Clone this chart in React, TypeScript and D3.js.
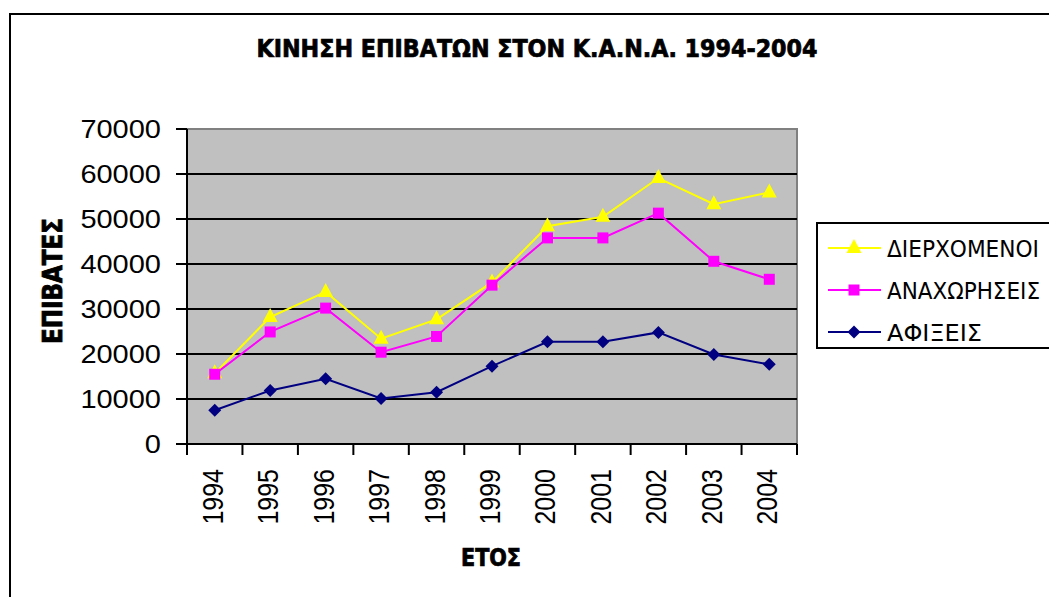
import * as d3 from 'd3';

const years = ['1994', '1995', '1996', '1997', '1998', '1999', '2000', '2001', '2002', '2003', '2004'];
const transit = [15700, 28200, 33800, 23400, 27700, 35900, 48400, 50500, 59100, 53300, 55900];
const departures = [15500, 24900, 30200, 20400, 23900, 35300, 45800, 45800, 51300, 40600, 36600];
const arrivals = [7500, 11900, 14500, 10100, 11500, 17300, 22700, 22700, 24800, 19900, 17700];
const yTicks = [0, 10000, 20000, 30000, 40000, 50000, 60000, 70000];

const title = 'ΚΙΝΗΣΗ ΕΠΙΒΑΤΩΝ ΣΤΟΝ Κ.Α.Ν.Α. 1994-2004';
const xTitle = 'ΕΤΟΣ';
const yTitle = 'ΕΠΙΒΑΤΕΣ';

const series = [
  { name: 'ΔΙΕΡΧΟΜΕΝΟΙ', values: transit, color: '#ffff00', marker: 'triangle' },
  { name: 'ΑΝΑΧΩΡΗΣΕΙΣ', values: departures, color: '#ff00ff', marker: 'square' },
  { name: 'ΑΦΙΞΕΙΣ', values: arrivals, color: '#000080', marker: 'diamond' },
];

// the reference is stretched sideways a little, so every text gets this
const SX = 1.16;
const W = 1049;
const H = 597;
const plot = { left: 187, right: 797, top: 129, bottom: 444 };
// legend text widths as seen in the picture
const legendWidths = [152, 153, 95];

function markerPath(kind: string) {
  if (kind === 'triangle') return 'M0,-9L7.5,5L-7.5,5Z';
  if (kind === 'square') return 'M-5.5,-5.5H5.5V5.5H-5.5Z';
  return 'M0,-6.5L6.5,0L0,6.5L-6.5,0Z';
}

function Marker({ kind, x, y, color }: { kind: string; x: number; y: number; color: string }) {
  return <path d={markerPath(kind)} transform={`translate(${x},${y})`} fill={color} />;
}

export default function App() {
  const x = d3.scaleBand().domain(years).range([plot.left, plot.right]);
  const y = d3.scaleLinear().domain([0, 70000]).range([plot.bottom, plot.top]);
  const cx = (yr: string) => (x(yr) as number) + x.bandwidth() / 2;

  const line = d3.line<number>()
    .x((_, i) => cx(years[i]))
    .y(d => y(d));

  const numFont = "'Liberation Sans', Arial, sans-serif";
  const tahoma = "'DejaVu Sans', Verdana, sans-serif";
  const tahomaBold = "'DejaVu Sans Condensed', 'DejaVu Sans', Verdana, sans-serif";
  // heavier bold like the reference's
  const heavy = { fontWeight: 'bold', stroke: '#000', strokeWidth: 0.7 } as const;

  return (
    <svg width={W} height={H} style={{ position: 'absolute', left: 0, top: 0, background: '#fff' }}>
      <rect x={10} y={14} width={W + 20} height={H + 20} fill="#fff" stroke="#000" strokeWidth={2} />

      <text
        transform={`translate(537,57) scale(${SX},1)`}
        textAnchor="middle"
        fontFamily={tahomaBold}
        {...heavy}
        fontSize={25}
        textLength={561 / SX}
        lengthAdjust="spacingAndGlyphs"
      >
        {title}
      </text>

      <rect x={plot.left} y={plot.top} width={plot.right - plot.left} height={plot.bottom - plot.top}
        fill="#c0c0c0" stroke="#808080" strokeWidth={2} />

      {yTicks.filter(t => t > 0 && t < 70000).map(t => (
        <line key={'g' + t} x1={plot.left} x2={plot.right} y1={y(t)} y2={y(t)} stroke="#000" strokeWidth={2} />
      ))}

      <line x1={plot.left} x2={plot.left} y1={plot.top} y2={plot.bottom + 1} stroke="#000" strokeWidth={2} />
      <line x1={plot.left} x2={plot.right} y1={plot.bottom} y2={plot.bottom} stroke="#000" strokeWidth={2} />

      {yTicks.map(t => (
        <g key={'y' + t}>
          <line x1={plot.left - 11} x2={plot.left} y1={y(t)} y2={y(t)} stroke="#000" strokeWidth={2} />
          <text
            transform={`translate(161,${y(t) + 9}) scale(${SX},1)`}
            textAnchor="end"
            fontFamily={numFont}
            fontSize={25}
          >
            {t}
          </text>
        </g>
      ))}

      {years.map(yr => (
        <line key={'xt' + yr} x1={x(yr) as number} x2={x(yr) as number} y1={plot.bottom} y2={plot.bottom + 11}
          stroke="#000" strokeWidth={2} />
      ))}
      <line x1={plot.right} x2={plot.right} y1={plot.bottom} y2={plot.bottom + 11} stroke="#000" strokeWidth={2} />

      {years.map(yr => (
        <text
          key={'xl' + yr}
          transform={`translate(${cx(yr) + 8},469) scale(${SX},1) rotate(-90)`}
          textAnchor="end"
          fontFamily={numFont}
          fontSize={25}
        >
          {yr}
        </text>
      ))}

      <text
        transform={`translate(491,566) scale(${SX},1)`}
        textAnchor="middle"
        fontFamily={tahomaBold}
        {...heavy}
        fontSize={24}
        textLength={60 / SX}
        lengthAdjust="spacingAndGlyphs"
      >
        {xTitle}
      </text>

      <text
        transform={`translate(62,281) scale(${SX},1) rotate(-90)`}
        textAnchor="middle"
        fontFamily={tahomaBold}
        {...heavy}
        fontSize={23}
        textLength={126}
        lengthAdjust="spacingAndGlyphs"
      >
        {yTitle}
      </text>

      {series.map(s => (
        <g key={s.name}>
          <path d={line(s.values) || ''} fill="none" stroke={s.color} strokeWidth={2} />
          {s.values.map((v, i) => (
            <Marker key={i} kind={s.marker} x={cx(years[i])} y={y(v)} color={s.color} />
          ))}
        </g>
      ))}

      <rect x={817} y={223} width={260} height={125} fill="#fff" stroke="#000" strokeWidth={2} />
      {series.map((s, i) => {
        const ly = 248 + i * 42;
        return (
          <g key={'lg' + s.name}>
            <line x1={828} x2={881} y1={ly} y2={ly} stroke={s.color} strokeWidth={2} />
            <Marker kind={s.marker} x={854} y={ly} color={s.color} />
            <text
              transform={`translate(887,${ly + 9}) scale(${SX},1)`}
              fontFamily={tahoma}
              fontSize={23}
              textLength={legendWidths[i] / SX}
              lengthAdjust="spacingAndGlyphs"
            >
              {s.name}
            </text>
          </g>
        );
      })}
    </svg>
  );
}
